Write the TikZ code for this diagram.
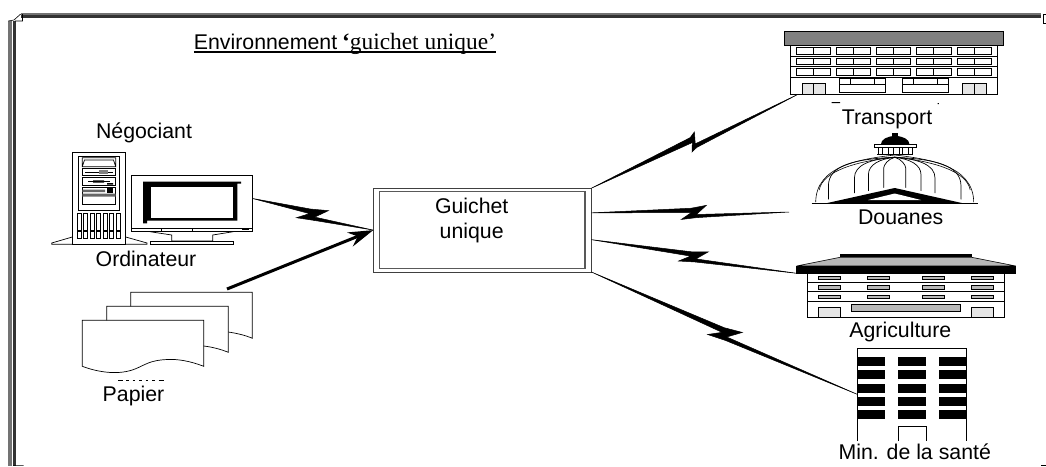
\documentclass[tikz,border=0pt]{standalone}
\usepackage{fontspec}
\setmainfont{Liberation Sans}
\newfontfamily\timespart{Liberation Serif}
\usetikzlibrary{arrows.meta,calc}

\newcommand{\boltat}[3]{($(\tikztostart)!#1!(\tikztotarget)!#2!#3:(\tikztotarget)$)}

\begin{document}
\begin{tikzpicture}[x=1pt,y=-1pt,line width=.7pt,
        lbl/.style={font=\fontsize{21.3}{25}\selectfont,inner sep=0pt,outer sep=0pt,anchor=base},
        body/.style={draw,fill=white,inner sep=0pt,outer sep=0pt},
        glass/.style={draw,fill=black!10,line width=.6pt},
        steel/.style={draw,fill=black!28,line width=.6pt},
        sheet/.style={draw,fill=white,line width=.7pt},
        bolt/.style n args={3}{draw,fill=black,line width=.5pt,line join=miter,to path={
            (\tikztostart) -- \boltat{{.6*#2+.4*#1}}{{.6*#3*1pt}}{90} -- \boltat{#1}{#3pt}{90}
            -- \boltat{{.4*#2+.6*#1}}{{.3*#3*1pt}}{-90} -- (\tikztotarget)
            -- \boltat{{.4*#2+.6*#1}}{{.75*#3*1pt}}{-90} -- \boltat{#2}{#3pt}{-90}
            -- \boltat{{.6*#2+.4*#1}}{.2pt}{-90} -- cycle}}]

  \useasboundingbox (0,0) rectangle (1046,466);

  % frame
  \fill[black!55] (20.7,13.3) rectangle (1041,15);
  \fill[black!80] (20.7,15) rectangle (1041,18.3);
  \fill[black!55] (8.3,20.5) rectangle (11.7,466);
  \fill[black!80] (13,20.5) rectangle (16,466);
  \draw[line width=.6pt] (8.3,21) -- (14,20) -- (20.7,14) (15,21) -- (22.5,21) -- (22.5,14)
        (13,465.3) -- (23.5,465.3);
  \draw[line width=.8pt] (1043.5,14.5) rectangle (1046,23);
  \fill (1041,464.5) rectangle (1046,466);

  % title
  \node[lbl] (title) at (345,49.3) {Environnement{\kern-1pt\timespart\fontsize{23.4}{25}\selectfont\ {\bfseries‘}guichet unique’}};
  \draw[line width=1.7pt] ($(title.base west)+(0,2.8)$) -- ($(title.base east)+(0,2.8)$);

  % tower
  \draw[fill=white] (72.3,237) -- (51.7,243) -- (51.7,244.3) -- (147,244.3) -- (147,243) -- (125.7,237);
  \node[body,minimum width=53.4pt,minimum height=91.6pt] (tower) at (99,198.5) {};
  \draw (78.7,156) rectangle (119.3,210);
  \draw (82.3,157.7) rectangle (115.7,166.7) (82.3,166.7) -- (84.5,160) -- (113.5,160) -- (115.7,166.7);
  \draw (82.3,168.3) rectangle (115.7,175.7);
  \draw (85,172) -- (113,172);
  \fill[black!50] (98.5,169.8) rectangle (108,174.2);
  \draw (82.3,177.7) rectangle (115.7,185.7);
  \draw (88,181.5) -- (110,181.5);
  \fill (93,180.3) rectangle (104,182.7) (107,183) rectangle (113,184.6);
  \draw (82.3,187.3) rectangle (115.7,204.3);
  \fill[black!60] (82.3,189.5) rectangle (105,192) (82.3,193.5) rectangle (115.7,196.7);
  \fill (107,187.8) rectangle (113,192.5);
  \foreach \slot in {0,...,6} {
    \draw ({77.3+6.5*\slot},213.3) rectangle ++(3.6,16.7);
    \draw ({77.3+6.5*\slot},231.2) rectangle ++(3.6,7.5);
  }

  % monitor
  \draw[fill=white] (150,231.7) -- (171.7,235) -- (171.7,241) -- (212.7,241) -- (212.7,235) -- (233.3,231.7);
  \draw[fill=white] (150.7,241) rectangle (233.3,244.3);
  \node[body,minimum width=120.6pt,minimum height=56pt] (monitor) at (192,203.7) {};
  \fill (143,181.7) -- (241,181.7) -- (241,183.5) -- (237.3,183.5) -- (237.3,220.7) -- (147,220.7)
        -- (147,223.3) -- (143,223.3) -- cycle;
  \fill[white] (151,186.7) rectangle (233.3,218.3);
  \draw (131.7,228.3) -- (252.3,228.3);
  \draw (161.7,228.3) rectangle (192.7,231.7);
  \fill (242,227.7) rectangle (249,229.7);

  % paper sheets
  \draw[sheet] (130.7,338) -- (130.7,292.3) -- (252.3,292.3) -- (252.3,338.3) .. controls (245,335) and (235,333) .. (228.3,332) -- cycle;
  \draw[sheet] (106.7,352) -- (106.7,306.3) -- (228.3,306.3) -- (228.3,352.3) .. controls (220,349) and (212,347) .. (203.7,346) -- cycle;
  \draw[sheet] (82.3,320.3) -- (203.7,320.3) -- (203.7,366.3) .. controls (190,361) and (178,359) .. (168,359.5)
        .. controls (150,360) and (145,365) .. (135,369) .. controls (120,375) and (100,373) .. (82.3,366.3) -- cycle;
  \coordinate (paperout) at (227,289);
  \draw[line width=.9pt,dash pattern=on 5pt off 3pt on 2.5pt off 4pt on 2.5pt off 4pt on 2.5pt off 4pt on 2.5pt off 4pt on 2.5pt off 4pt] (118,380.5) -- (166,380.5);

  % guichet
  \node[body,minimum width=218pt,minimum height=83.7pt,draw=black!75,line width=.8pt] (guichet) at (482.3,230.1) {};
  \draw[black!65,line width=1.3pt] (379.3,191.7) rectangle (585,268.7);
  \node[lbl,anchor=center,align=center] (guichetlbl) at (471.7,220.5) {Guichet\\unique};

  % transport
  \node[body,minimum width=206.3pt,minimum height=48.6pt] (transport) at (893.85,70) {};
  \node[draw,fill=black!50,minimum width=218.6pt,minimum height=14pt,inner sep=0pt,outer sep=0pt,line width=.6pt] (roofb) at (894,38.7) {};
  \coordinate (transportin) at (798,94.3);
  \foreach \rowy in {56,66.7,77.3} \draw[line width=1pt] (790.7,\rowy) -- (997,\rowy);
  \foreach \winx in {796.3,836.3,876.3,916.7,957} \foreach \winy in {47.3,58,68.7} {
    \draw ($(\winx,\winy)$) rectangle ++(34.3,6.7);
    \draw ($(\winx,\winy)+(17,0)$) -- ++(0,6.7);
  }
  \foreach \doorx in {802,962.7} {
    \draw[glass] (\doorx,94.3) -- ++(0,-10.6) -- ++(23.3,0) -- ++(0,10.6);
    \draw ($(\doorx,83.7)+(11.6,0)$) -- ++(0,10.6);
  }
  \foreach \bayx in {839.3,902.3} {
    \draw (\bayx,78.7) rectangle ++(46,13.6) (\bayx,84.3) -- ++(46,0);
    \draw ($(\bayx,78.7)+(11.3,0)$) -- ++(0,5.6) ($(\bayx,78.7)+(34.7,0)$) -- ++(0,5.6);
  }
  \fill (831.7,102) rectangle (840,103.2) (937.5,103) rectangle (938.8,104);

  % douanes
  \fill (892.3,133) rectangle (897.7,137);
  \fill (881,144) arc[x radius=14.2,y radius=-8,start angle=180,end angle=0] -- cycle;
  \draw[fill=white] (874.3,144.2) rectangle (916.7,147.7);
  \foreach \colx in {878,882,888,893,899,902,908,912} \draw (\colx,147.7) -- (\colx,154.7);
  \draw (877.3,154.7) -- (913.3,154.7);
  \foreach \sgn in {-1,1} {
    \draw[line width=.6pt] (894.7,155) .. controls ({894.7+\sgn*35},159) and ({894.7+\sgn*79},166) .. ({894.7+\sgn*79},202.5);
    \draw[line width=.6pt] (894.7,157) .. controls ({894.7+\sgn*35},161) and ({894.7+\sgn*72},170) .. ({894.7+\sgn*75.5},190);
    \foreach \ribx/\ribtop/\ribbot in {66.3/186/199.7,40.3/178/193,26.3/174.7/191,11/168/188} {
      \draw[line width=.7pt] (894.7,157.3) .. controls ({894.7+\sgn*\ribx*.6},159) and ({894.7+\sgn*\ribx},165) .. ({894.7+\sgn*\ribx},\ribtop) -- ({894.7+\sgn*\ribx},\ribbot);
    }
  }
  \draw[fill=white,draw=none] (810,203.5) -- (894.7,185.5) -- (979,203.5) -- cycle;
  \fill (825,203.5) -- (894.7,188) -- (964,203.5) -- cycle;
  \fill[white] (868,200) -- (894.7,193.5) -- (921,200) -- cycle;
  \draw[line width=.6pt] (811.7,203.5) -- (978.3,203.5);
  \coordinate (douanesin) at (789,212);

  % agriculture
  \draw[fill=black!28,line width=.6pt] (840,257.3) -- (796.7,266) -- (1015.7,266) -- (971.7,257.3) -- cycle;
  \fill (840,254) rectangle (971.7,257.3);
  \draw[fill=white] (807.7,273.3) -- (807.7,317.3) -- (1004.3,317.3) -- (1004.3,273.3);
  \node[draw,fill=black,minimum width=219pt,minimum height=7.3pt,inner sep=0pt,outer sep=0pt] (agriculture) at (906.2,269.65) {};
  \foreach \rowy in {282.3,291.7,301.3} \draw (807.7,\rowy) -- (1004.3,\rowy);
  \foreach \winx in {818.3,867.3,922,971.3} \foreach \winy in {276,285.3,295} {
    \draw[steel] ($(\winx,\winy)$) rectangle ++(22.3,3.5);
  }
  \draw[steel] (851.3,304.3) rectangle (960.7,311);
  \foreach \doorx in {818.3,971.3} \draw[glass] (\doorx,317.3) -- ++(0,-10) -- ++(22.3,0) -- ++(0,10);

  % sante
  \node[inner sep=0pt,outer sep=0pt,minimum width=109.4pt,minimum height=92.7pt] (sante) at (912,394.35) {};
  \draw (sante.south west) -- (sante.north west) -- (sante.north east) -- (sante.south east);
  \foreach \barx in {857.3,898,939} \foreach \bary in {356.7,370.3,383.7,397,410.3} {
    \fill ($(\barx,\bary)$) rectangle ++(27.7,8.8);
  }
  \draw (898.3,440.7) -- (898.3,426.3) -- (926,426.3) -- (926,440.7);

  % labels
  \node[lbl] (negociant) at (144,138.3) {Négociant};
  \node[lbl] (ordinateur) at (146,266) {Ordinateur};
  \node[lbl] (papier) at (133.5,401) {Papier};
  \node[lbl] (transportlbl) at (887,124) {Transport};
  \node[lbl] (douaneslbl) at (900.7,224) {Douanes};
  \node[lbl] (agriculturelbl) at (900.3,337.7) {Agriculture};
  \node[lbl] (santelbl) at (914.7,459.3) {Min. de la santé};

  % liaisons
  \path (monitor.5.4) edge[bolt={.614}{.38}{7.5}] (guichet.west)
        (guichet.north east) edge[bolt={.516}{.47}{8.6}] (transportin)
        (guichet.9.3) edge[bolt={.582}{.455}{7}] (douanesin)
        (guichet.-5.2) edge[bolt={.565}{.43}{7}] (agriculture.south west)
        (guichet.south east) edge[bolt={.555}{.45}{8.2}] (sante.west);
  \draw[line width=3pt,-{Stealth[length=25pt,width=15pt]}] (paperout) -- (guichet.west);

\end{tikzpicture}
\end{document}
